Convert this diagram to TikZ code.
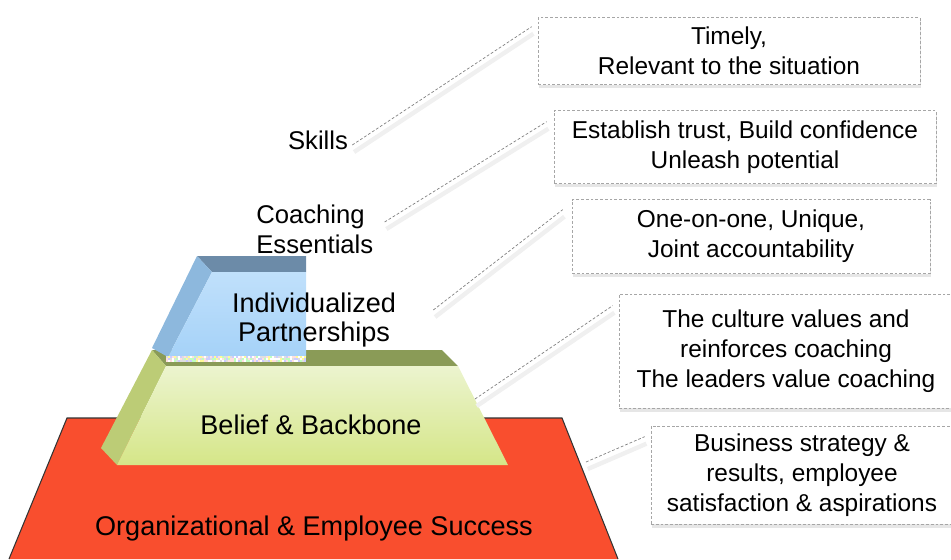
\documentclass[tikz,border=0pt]{standalone}
\usepackage{fontspec}
\setmainfont{Liberation Sans}
\usetikzlibrary{shadows}

\definecolor{slabred}{RGB}{249,78,46}
\definecolor{greentop}{RGB}{138,155,87}
\definecolor{greenside}{RGB}{188,204,118}
\definecolor{greenlight}{RGB}{236,244,207}
\definecolor{greendark}{RGB}{213,230,136}
\definecolor{bluetop}{RGB}{108,139,168}
\definecolor{blueside}{RGB}{141,184,221}
\definecolor{bluelight}{RGB}{192,224,251}
\definecolor{bluedark}{RGB}{165,210,248}

\pgfmathdeclarerandomlist{speckle}{{pink!50}{green!25}{blue!20}{gray!25}{yellow!40}{white}}

\begin{document}
\begin{tikzpicture}[x=0.02cm, y=-0.02cm,
    txt/.style={font=\fontsize{15.4}{17}\selectfont, inner sep=0pt},
    small/.style={font=\fontsize{14.6}{17}\selectfont, inner sep=0pt},
    note/.style={font=\fontsize{13.9}{17}\selectfont, inner sep=0pt, draw=gray!70,
        dash pattern=on 1.6pt off 1.1pt, line width=0.4pt, fill=white, align=center,
        drop shadow={shadow xshift=0.6pt, shadow yshift=-2pt, opacity=0.2}},
    lead/.style={gray, dash pattern=on 1.6pt off 1.1pt, line width=0.4pt,
        preaction={draw=black!6, solid, line width=2.5pt, transform canvas={xshift=1pt, yshift=-4pt}}}]
    \useasboundingbox (0,0) rectangle (951,559);

    % bottom slab
    \fill[slabred] (67,418) -- (562,418) -- (618,559) -- (9,559) -- cycle;
    \draw[black!80, line width=0.6pt] (9,559) -- (67,418) -- (562,418) -- (618,559);

    % middle block
    \fill[greentop] (152,350) -- (442,350) -- (458,366) -- (166,366) -- cycle;
    \fill[greenside] (152,350) -- (166,366) -- (117,465) -- (101,448) -- cycle;
    \shade[top color=greenlight, bottom color=greendark]
        (166,366) -- (458,366) -- (508,465) -- (117,465) -- cycle;

    % top block, cut in half
    \fill[bluetop] (197,256) -- (306,256) -- (306,272) -- (212,272) -- cycle;
    \fill[blueside] (197,256) -- (212,272) -- (168,357) -- (152,348) -- cycle;
    \shade[top color=bluelight, bottom color=bluedark]
        (212,272) -- (306,272) -- (306,357) -- (168,357) -- cycle;
    \foreach \x in {166,168,...,304} {
        \foreach \y in {356,358,360} {
            \pgfmathrandomitem{\speck}{speckle}
            \fill[\speck] (\x,\y) rectangle ++(2,2);
        }
    }

    % level labels
    \node[small] (skills) at (318,140) {Skills};
    \node[small, align=left, anchor=west] (coach) at (256,229.5) {Coaching\\Essentials};
    \node[txt, align=center] (indiv) at (314,320) {Individualized\\Partnerships};
    \node[txt] (belief) at (311,425) {Belief \& Backbone};
    \node[txt] (success) at (314,528) {Organizational \& Employee Success};
    \coordinate (bbedge) at (475,399);
    \coordinate (slabedge) at (586,462);

    % notes
    \node[note, minimum width=7.64cm, minimum height=1.34cm] (timely) at (729,51)
        {Timely,\\Relevant to the situation};
    \node[note, minimum width=7.64cm, minimum height=1.46cm] (trust) at (745,147)
        {Establish trust, Build confidence\\Unleash potential};
    \node[note, minimum width=7.16cm, minimum height=1.48cm] (oneone) at (751,236.5)
        {One-on-one, Unique,\\Joint accountability};
    \node[note, minimum width=6.68cm, minimum height=2.28cm] (culture) at (786,351)
        {The culture values and\\reinforces coaching\\The leaders value coaching};
    \node[note, minimum width=6.04cm, minimum height=1.96cm] (business) at (802,475)
        {Business strategy \&\\results, employee\\satisfaction \& aspirations};

    % leaders
    \draw[lead] ([shift={(4,5)}]skills.east) -- ([shift={(-6,9.5)}]timely.north west);
    \draw[lead] ([shift={(11,-7.5)}]coach.east) -- ([shift={(-7,11.5)}]trust.north west);
    \draw[lead] ([shift={(37,-10)}]indiv.east) -- ([shift={(-9,10.5)}]oneone.north west);
    \draw[lead] (bbedge) -- ([shift={(-6,12)}]culture.north west);
    \draw[lead] (slabedge) -- ([shift={(-6,11)}]business.north west);
\end{tikzpicture}
\end{document}
